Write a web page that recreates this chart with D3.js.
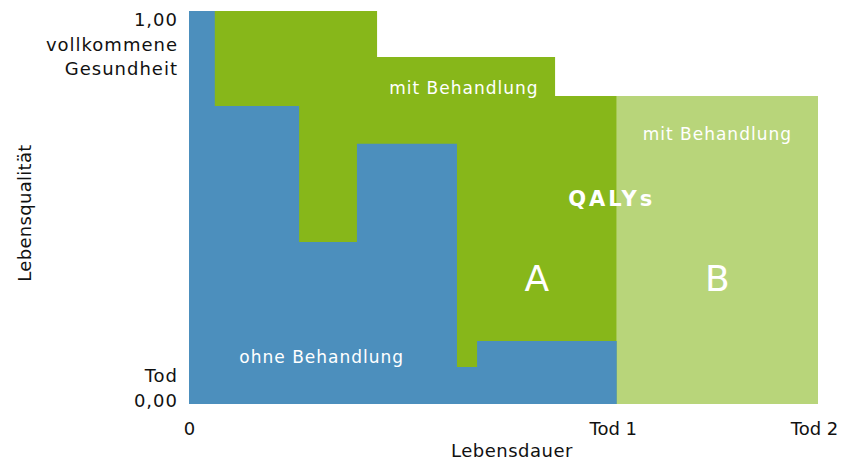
<!DOCTYPE html>
<html>
<head>
<meta charset="utf-8">
<script src="https://cdnjs.cloudflare.com/ajax/libs/d3/7.8.5/d3.min.js"></script>
<style>
    html, body { margin: 0; padding: 0; background: #fff; }
    svg { display: block; font-family: "DejaVu Sans", sans-serif; }
</style>
</head>
<body>
<div id="chart"></div>
<script>
"use strict";

// Lebensdauer in relative units (Tod 2 = 100), Lebensqualitaet 0..1
var xTicks = [0, 68, 100];
var xTickLabels = ["0", "Tod 1", "Tod 2"];
var yTicks = [1, 0];
var yTickLabels = [["1,00", "vollkommene", "Gesundheit"], ["Tod", "0,00"]];

var tod1 = 68;

// "mit Behandlung" step curve
var mitX = [0, 29.9, 58.2, 68, 100];
var mitQ = [1.00, 0.883, 0.784, 0.784, 0.784];

// "ohne Behandlung" step curve
var ohneX = [0, 4.1, 17.5, 26.7, 42.6, 45.8, 68];
var ohneQ = [1.00, 0.758, 0.412, 0.662, 0.094, 0.160, 0.160];

var labelTexts = ["mit Behandlung", "mit Behandlung", "QALYs", "A", "B", "ohne Behandlung"];
var labelX = [43.7, 84, 67.2, 55.3, 84, 21.1];
var labelQ = [0.789, 0.672, 0.504, 0.288, 0.288, 0.105];

var Colors = {
    ohne: "#4c8fbd",
    mit: "#87b71a",
    mitLight: "#b8d57a"
};

var LabelStyles = [
    {size: 17, weight: "normal", spacing: 1},
    {size: 17, weight: "normal", spacing: 1},
    {size: 21, weight: "bold", spacing: 3},
    {size: 36, weight: "normal", spacing: 0},
    {size: 36, weight: "normal", spacing: 0},
    {size: 17, weight: "normal", spacing: 1}
];

var width = 844, height = 460;

var svg = d3.select("#chart")
    .append("svg")
    .attr("width", width)
    .attr("height", height);

var x = d3.scaleLinear().domain([0, 100]).range([189, 818]);
var y = d3.scaleLinear().domain([0, 1]).range([404, 11]);

function toPoints(xs, qs) {
    return xs.map(function (v, i) {
        return {x: v, q: qs[i]};
    });
}

var area = d3.area()
    .curve(d3.curveStepAfter)
    .x(function (d) { return x(d.x); })
    .y0(y(0))
    .y1(function (d) { return y(d.q); });

var mitPoints = toPoints(mitX, mitQ);
var mitA = mitPoints.filter(function (d) { return d.x <= tod1; });
var mitB = mitPoints.filter(function (d) { return d.x >= tod1; });

svg.append("path")
    .datum(mitB)
    .attr("fill", Colors.mitLight)
    .attr("d", area);

svg.append("path")
    .datum(mitA)
    .attr("fill", Colors.mit)
    .attr("d", area);

svg.append("path")
    .datum(toPoints(ohneX, ohneQ))
    .attr("fill", Colors.ohne)
    .attr("d", area);

// labels inside the chart
svg.selectAll("text.label")
    .data(labelTexts)
    .enter()
    .append("text")
    .attr("class", "label")
    .attr("x", function (d, i) { return x(labelX[i]); })
    .attr("y", function (d, i) { return y(labelQ[i]); })
    .attr("text-anchor", "middle")
    .attr("fill", "#fff")
    .style("font-size", function (d, i) { return LabelStyles[i].size + "px"; })
    .style("font-weight", function (d, i) { return LabelStyles[i].weight; })
    .style("letter-spacing", function (d, i) { return LabelStyles[i].spacing + "px"; })
    .text(function (d) { return d; });

// x axis (labels only)
var xAxis = d3.axisBottom(x)
    .tickValues(xTicks)
    .tickSize(0)
    .tickPadding(0)
    .tickFormat(function (d, i) { return xTickLabels[i]; });

var gx = svg.append("g")
    .attr("transform", "translate(0," + 435 + ")")
    .call(xAxis);
gx.select(".domain").remove();
gx.selectAll("text")
    .attr("y", 0)
    .attr("dy", 0)
    .attr("dx", function (d) { return d === 0 ? 0 : -4; })
    .attr("fill", "#111")
    .style("font-size", "18px")
    .style("font-family", "DejaVu Sans, sans-serif");

// y axis labels (multi line)
var yLabels = svg.selectAll("text.ytick")
    .data(yTicks)
    .enter()
    .append("text")
    .attr("class", "ytick")
    .attr("text-anchor", "end")
    .attr("fill", "#111")
    .style("font-size", "18px")
    .style("letter-spacing", "1px");

yLabels.each(function (d, i) {
    var lines = yTickLabels[i];
    // top label hangs down from the top, bottom label sits on the baseline
    var baseY = d === 1 ? y(d) + 15 : y(d) + 2 - (lines.length - 1) * 24;
    d3.select(this).selectAll("tspan")
        .data(lines)
        .enter()
        .append("tspan")
        .attr("x", 178)
        .attr("y", function (l, j) { return baseY + j * 24.5; })
        .text(function (l) { return l; });
});

// axis titles
svg.append("text")
    .attr("x", 512)
    .attr("y", 457)
    .attr("text-anchor", "middle")
    .attr("fill", "#111")
    .style("font-size", "18px")
    .style("letter-spacing", "0.5px")
    .text("Lebensdauer");

svg.append("text")
    .attr("transform", "translate(31,213) rotate(-90)")
    .attr("text-anchor", "middle")
    .attr("fill", "#111")
    .style("font-size", "18px")
    .style("letter-spacing", "0.3px")
    .text("Lebensqualität");
</script>
</body>
</html>
